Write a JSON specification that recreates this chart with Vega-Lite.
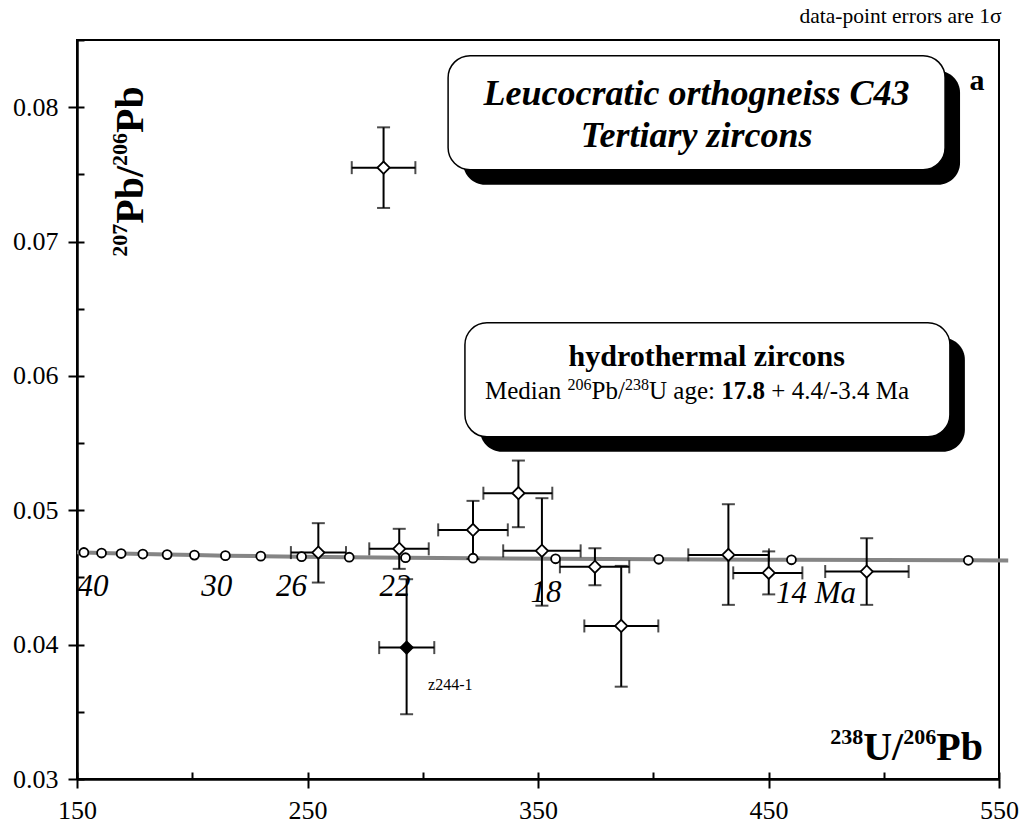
{
  "$schema": "https://vega.github.io/schema/vega-lite/v6.json",
  "width": 922,
  "height": 739,
  "autosize": "none",
  "padding": {"left": 77, "top": 40, "right": 24, "bottom": 55},
  "background": "white",
  "title": {"text": "data-point errors are 1σ", "anchor": "end", "font": "Liberation Serif", "fontSize": 21.5, "fontWeight": "normal", "color": "black", "offset": 12, "dx": -17},
  "config": {
    "view": {"stroke": "black", "strokeWidth": 2},
    "font": "Liberation Serif",
    "axis": {"labelFont": "Liberation Serif", "labelColor": "black", "tickColor": "black", "domainColor": "black", "grid": false}
  },
  "datasets": {
    "curve": [
      {"x": 150, "y": 0.046875}, {"x": 152.99, "y": 0.046858}, {"x": 160.66, "y": 0.046819}, {"x": 169.14, "y": 0.04678},
      {"x": 178.57, "y": 0.046741}, {"x": 189.1, "y": 0.046702}, {"x": 200.95, "y": 0.046663}, {"x": 214.38, "y": 0.046624},
      {"x": 229.73, "y": 0.046585}, {"x": 247.44, "y": 0.046546}, {"x": 268.1, "y": 0.046507}, {"x": 292.52, "y": 0.046469},
      {"x": 321.82, "y": 0.04643}, {"x": 357.63, "y": 0.046391}, {"x": 402.4, "y": 0.046353}, {"x": 459.96, "y": 0.046314},
      {"x": 536.7, "y": 0.046276}, {"x": 554, "y": 0.046265}
    ],
    "ticks": [
      {"age": 42, "x": 152.99, "y": 0.046858}, {"age": 40, "x": 160.66, "y": 0.046819}, {"age": 38, "x": 169.14, "y": 0.04678},
      {"age": 36, "x": 178.57, "y": 0.046741}, {"age": 34, "x": 189.1, "y": 0.046702}, {"age": 32, "x": 200.95, "y": 0.046663},
      {"age": 30, "x": 214.38, "y": 0.046624}, {"age": 28, "x": 229.73, "y": 0.046585}, {"age": 26, "x": 247.44, "y": 0.046546},
      {"age": 24, "x": 268.1, "y": 0.046507}, {"age": 22, "x": 292.52, "y": 0.046469}, {"age": 20, "x": 321.82, "y": 0.04643},
      {"age": 18, "x": 357.63, "y": 0.046391}, {"age": 16, "x": 402.4, "y": 0.046353}, {"age": 14, "x": 459.96, "y": 0.046314},
      {"age": 12, "x": 536.7, "y": 0.046276}
    ],
    "zircons": [
      {"id": "K", "x": 283.0, "xlo": 269.2, "xhi": 296.8, "y": 0.0755, "ylo": 0.0725, "yhi": 0.0785, "kind": "open"},
      {"id": "I", "x": 254.7, "xlo": 242.8, "xhi": 266.7, "y": 0.04685, "ylo": 0.04462, "yhi": 0.04904, "kind": "open"},
      {"id": "J", "x": 289.8, "xlo": 276.8, "xhi": 302.6, "y": 0.04713, "ylo": 0.04564, "yhi": 0.04862, "kind": "open"},
      {"id": "A", "x": 321.8, "xlo": 306.7, "xhi": 336.9, "y": 0.04854, "ylo": 0.04638, "yhi": 0.0507, "kind": "open"},
      {"id": "B", "x": 341.5, "xlo": 326.3, "xhi": 356.2, "y": 0.05127, "ylo": 0.04874, "yhi": 0.0537, "kind": "open"},
      {"id": "C", "x": 351.7, "xlo": 334.9, "xhi": 368.5, "y": 0.04698, "ylo": 0.0429, "yhi": 0.0509, "kind": "open"},
      {"id": "D", "x": 374.7, "xlo": 359.5, "xhi": 389.6, "y": 0.04579, "ylo": 0.04442, "yhi": 0.04718, "kind": "open"},
      {"id": "E", "x": 386.1, "xlo": 370.1, "xhi": 402.2, "y": 0.04139, "ylo": 0.03687, "yhi": 0.04586, "kind": "open"},
      {"id": "F", "x": 432.6, "xlo": 415.2, "xhi": 450.2, "y": 0.04668, "ylo": 0.04296, "yhi": 0.05045, "kind": "open"},
      {"id": "G", "x": 450.1, "xlo": 434.7, "xhi": 464.7, "y": 0.04534, "ylo": 0.04374, "yhi": 0.04694, "kind": "open"},
      {"id": "H", "x": 492.6, "xlo": 474.6, "xhi": 510.8, "y": 0.04544, "ylo": 0.04296, "yhi": 0.04792, "kind": "open"},
      {"id": "z244-1", "x": 293.0, "xlo": 281.1, "xhi": 305.0, "y": 0.03978, "ylo": 0.03482, "yhi": 0.04487, "kind": "filled"}
    ],
    "ages": [
      {"t": "40", "x": 156.9, "y": 0.04363}, {"t": "30", "x": 210.6, "y": 0.04363}, {"t": "26", "x": 243.1, "y": 0.04363},
      {"t": "22", "x": 288.0, "y": 0.04363}, {"t": "18", "x": 353.5, "y": 0.04318}, {"t": "14 Ma", "x": 470.6, "y": 0.04311}
    ],
    "shadows": [
      {"x": 317.5, "x2": 533.1, "y": 0.082717, "y2": 0.074229},
      {"x": 324.8, "x2": 535.2, "y": 0.062837, "y2": 0.054348}
    ],
    "boxes": [
      {"x": 311.0, "x2": 526.6, "y": 0.083834, "y2": 0.075346},
      {"x": 318.3, "x2": 528.7, "y": 0.063954, "y2": 0.055465}
    ],
    "box1": [
      {"t": "Leucocratic orthogneiss C43", "x": 418.8, "y": 0.080186},
      {"t": "Tertiary zircons", "x": 418.8, "y": 0.077059}
    ],
    "box2title": [{"t": "hydrothermal zircons", "x": 423.2, "y": 0.060752}],
    "box2reg": [
      {"t": "Median", "x": 327.0, "y": 0.058295}, {"t": "Pb/", "x": 373.25, "y": 0.058295},
      {"t": "U age:", "x": 398.16, "y": 0.058295}, {"t": "+ 4.4/-3.4 Ma", "x": 451.21, "y": 0.058295}
    ],
    "box2sup": [{"t": "206", "x": 362.84, "y": 0.058965}, {"t": "238", "x": 387.74, "y": 0.058965}],
    "box2bold": [{"t": "17.8", "x": 429.48, "y": 0.058295}],
    "ytitleBig": [{"t": "Pb/", "x": 178.6, "y": 0.071326}, {"t": "Pb", "x": 178.6, "y": 0.078086}],
    "ytitleSup": [{"t": "207", "x": 171.6, "y": 0.068868}, {"t": "206", "x": 171.6, "y": 0.075629}],
    "xtitleBig": [{"t": "U/", "x": 491.1, "y": 0.031415}, {"t": "Pb", "x": 522.8, "y": 0.031415}],
    "xtitleSup": [{"t": "238", "x": 476.8, "y": 0.032606}, {"t": "206", "x": 508.5, "y": 0.032606}],
    "panel": [{"t": "a", "x": 540.5, "y": 0.081303}],
    "note": [{"t": "z244-1", "x": 302.3, "y": 0.036627}]
  },
  "resolve": {"axis": {"x": "independent", "y": "independent"}},
  "layer": [
    {
      "data": {"name": "curve"},
      "mark": {"type": "line", "color": "#858585", "strokeWidth": 4, "clip": false},
      "encoding": {
        "x": {"field": "x", "type": "quantitative", "scale": {"domain": [150, 550], "nice": false, "zero": false},
          "axis": {"orient": "bottom", "values": [150, 250, 350, 450, 550], "format": "d", "title": null, "domainWidth": 2.5, "tickWidth": 2, "tickSize": 9, "labelFont": "Liberation Serif", "labelFontSize": 26, "labelPadding": 9, "labelFlush": false}},
        "y": {"field": "y", "type": "quantitative", "scale": {"domain": [0.03, 0.085], "nice": false, "zero": false},
          "axis": {"orient": "left", "values": [0.03, 0.04, 0.05, 0.06, 0.07, 0.08], "format": ".2f", "title": null, "domainWidth": 2.5, "tickWidth": 2, "tickSize": 9, "labelFont": "Liberation Serif", "labelFontSize": 26, "labelPadding": 10, "labelFlush": false}}
      }
    },
    {
      "data": {"name": "ages"},
      "mark": {"type": "text", "font": "Liberation Serif", "fontStyle": "italic", "fontSize": 31, "align": "center", "baseline": "alphabetic", "color": "black"},
      "encoding": {
        "x": {"field": "x", "type": "quantitative", "scale": {"domain": [150, 550]}, "axis": null},
        "y": {"field": "y", "type": "quantitative", "scale": {"domain": [0.03, 0.085]}, "axis": null},
        "text": {"field": "t"}
      }
    },
    {
      "data": {"name": "shadows"},
      "mark": {"type": "rect", "color": "black", "cornerRadius": 22},
      "encoding": {
        "x": {"field": "x", "type": "quantitative", "scale": {"domain": [150, 550]}, "axis": null},
        "x2": {"field": "x2"},
        "y": {"field": "y", "type": "quantitative", "scale": {"domain": [0.03, 0.085]}, "axis": null},
        "y2": {"field": "y2"}
      }
    },
    {
      "data": {"name": "boxes"},
      "mark": {"type": "rect", "fill": "white", "stroke": "black", "strokeWidth": 1.5, "cornerRadius": 22},
      "encoding": {
        "x": {"field": "x", "type": "quantitative", "scale": {"domain": [150, 550]}, "axis": null},
        "x2": {"field": "x2"},
        "y": {"field": "y", "type": "quantitative", "scale": {"domain": [0.03, 0.085]}, "axis": null},
        "y2": {"field": "y2"}
      }
    },
    {
      "data": {"name": "box1"},
      "mark": {"type": "text", "font": "Liberation Serif", "fontStyle": "italic", "fontWeight": "bold", "fontSize": 36, "align": "center", "baseline": "alphabetic", "color": "black"},
      "encoding": {
        "x": {"field": "x", "type": "quantitative", "scale": {"domain": [150, 550]}, "axis": null},
        "y": {"field": "y", "type": "quantitative", "scale": {"domain": [0.03, 0.085]}, "axis": null},
        "text": {"field": "t"}
      }
    },
    {
      "data": {"name": "box2title"},
      "mark": {"type": "text", "font": "Liberation Serif", "fontWeight": "bold", "fontSize": 30, "align": "center", "baseline": "alphabetic", "color": "black"},
      "encoding": {
        "x": {"field": "x", "type": "quantitative", "scale": {"domain": [150, 550]}, "axis": null},
        "y": {"field": "y", "type": "quantitative", "scale": {"domain": [0.03, 0.085]}, "axis": null},
        "text": {"field": "t"}
      }
    },
    {
      "data": {"name": "box2reg"},
      "mark": {"type": "text", "font": "Liberation Serif", "fontSize": 25, "align": "left", "baseline": "alphabetic", "color": "black"},
      "encoding": {
        "x": {"field": "x", "type": "quantitative", "scale": {"domain": [150, 550]}, "axis": null},
        "y": {"field": "y", "type": "quantitative", "scale": {"domain": [0.03, 0.085]}, "axis": null},
        "text": {"field": "t"}
      }
    },
    {
      "data": {"name": "box2sup"},
      "mark": {"type": "text", "font": "Liberation Serif", "fontSize": 16, "align": "left", "baseline": "alphabetic", "color": "black"},
      "encoding": {
        "x": {"field": "x", "type": "quantitative", "scale": {"domain": [150, 550]}, "axis": null},
        "y": {"field": "y", "type": "quantitative", "scale": {"domain": [0.03, 0.085]}, "axis": null},
        "text": {"field": "t"}
      }
    },
    {
      "data": {"name": "box2bold"},
      "mark": {"type": "text", "font": "Liberation Serif", "fontWeight": "bold", "fontSize": 25, "align": "left", "baseline": "alphabetic", "color": "black"},
      "encoding": {
        "x": {"field": "x", "type": "quantitative", "scale": {"domain": [150, 550]}, "axis": null},
        "y": {"field": "y", "type": "quantitative", "scale": {"domain": [0.03, 0.085]}, "axis": null},
        "text": {"field": "t"}
      }
    },
    {
      "data": {"name": "zircons"},
      "mark": {"type": "rule", "color": "black", "strokeWidth": 2},
      "encoding": {
        "x": {"field": "x", "type": "quantitative", "scale": {"domain": [150, 550]}, "axis": null},
        "y": {"field": "ylo", "type": "quantitative", "scale": {"domain": [0.03, 0.085]}, "axis": null},
        "y2": {"field": "yhi"}
      }
    },
    {
      "data": {"name": "zircons"},
      "mark": {"type": "rule", "color": "black", "strokeWidth": 2},
      "encoding": {
        "x": {"field": "xlo", "type": "quantitative", "scale": {"domain": [150, 550]}, "axis": null},
        "x2": {"field": "xhi"},
        "y": {"field": "y", "type": "quantitative", "scale": {"domain": [0.03, 0.085]}, "axis": null}
      }
    },
    {
      "data": {"name": "zircons"},
      "mark": {"type": "tick", "orient": "horizontal", "color": "black", "size": 13, "thickness": 2},
      "encoding": {
        "x": {"field": "x", "type": "quantitative", "scale": {"domain": [150, 550]}, "axis": null},
        "y": {"field": "ylo", "type": "quantitative", "scale": {"domain": [0.03, 0.085]}, "axis": null}
      }
    },
    {
      "data": {"name": "zircons"},
      "mark": {"type": "tick", "orient": "horizontal", "color": "black", "size": 13, "thickness": 2},
      "encoding": {
        "x": {"field": "x", "type": "quantitative", "scale": {"domain": [150, 550]}, "axis": null},
        "y": {"field": "yhi", "type": "quantitative", "scale": {"domain": [0.03, 0.085]}, "axis": null}
      }
    },
    {
      "data": {"name": "zircons"},
      "mark": {"type": "tick", "orient": "vertical", "color": "black", "size": 13, "thickness": 2},
      "encoding": {
        "x": {"field": "xlo", "type": "quantitative", "scale": {"domain": [150, 550]}, "axis": null},
        "y": {"field": "y", "type": "quantitative", "scale": {"domain": [0.03, 0.085]}, "axis": null}
      }
    },
    {
      "data": {"name": "zircons"},
      "mark": {"type": "tick", "orient": "vertical", "color": "black", "size": 13, "thickness": 2},
      "encoding": {
        "x": {"field": "xhi", "type": "quantitative", "scale": {"domain": [150, 550]}, "axis": null},
        "y": {"field": "y", "type": "quantitative", "scale": {"domain": [0.03, 0.085]}, "axis": null}
      }
    },
    {
      "data": {"name": "ticks"},
      "mark": {"type": "point", "shape": "circle", "filled": true, "fill": "white", "stroke": "black", "strokeWidth": 1.8, "size": 80, "opacity": 1},
      "encoding": {
        "x": {"field": "x", "type": "quantitative", "scale": {"domain": [150, 550]},
          "axis": {"orient": "bottom", "values": [150, 200, 250, 300, 350, 400, 450, 500, 550], "labels": false, "domain": false, "title": null, "tickWidth": 2, "tickSize": -7}},
        "y": {"field": "y", "type": "quantitative", "scale": {"domain": [0.03, 0.085]},
          "axis": {"orient": "left", "values": [0.03, 0.035, 0.04, 0.045, 0.05, 0.055, 0.06, 0.065, 0.07, 0.075, 0.08, 0.085], "labels": false, "domain": false, "title": null, "tickWidth": 2, "tickSize": -7}}
      }
    },
    {
      "data": {"name": "zircons"},
      "mark": {"type": "point", "shape": "diamond", "filled": true, "stroke": "black", "strokeWidth": 1.8, "size": 150, "opacity": 1},
      "encoding": {
        "x": {"field": "x", "type": "quantitative", "scale": {"domain": [150, 550]}, "axis": null},
        "y": {"field": "y", "type": "quantitative", "scale": {"domain": [0.03, 0.085]}, "axis": null},
        "fill": {"field": "kind", "type": "nominal", "scale": {"domain": ["open", "filled"], "range": ["white", "black"]}, "legend": null}
      }
    },
    {
      "data": {"name": "ytitleBig"},
      "mark": {"type": "text", "font": "Liberation Serif", "fontWeight": "bold", "fontSize": 40, "angle": 270, "align": "left", "baseline": "alphabetic", "color": "black"},
      "encoding": {
        "x": {"field": "x", "type": "quantitative", "scale": {"domain": [150, 550]}, "axis": null},
        "y": {"field": "y", "type": "quantitative", "scale": {"domain": [0.03, 0.085]}, "axis": null},
        "text": {"field": "t"}
      }
    },
    {
      "data": {"name": "ytitleSup"},
      "mark": {"type": "text", "font": "Liberation Serif", "fontWeight": "bold", "fontSize": 22, "angle": 270, "align": "left", "baseline": "alphabetic", "color": "black"},
      "encoding": {
        "x": {"field": "x", "type": "quantitative", "scale": {"domain": [150, 550]}, "axis": null},
        "y": {"field": "y", "type": "quantitative", "scale": {"domain": [0.03, 0.085]}, "axis": null},
        "text": {"field": "t"}
      }
    },
    {
      "data": {"name": "xtitleBig"},
      "mark": {"type": "text", "font": "Liberation Serif", "fontWeight": "bold", "fontSize": 40, "align": "left", "baseline": "alphabetic", "color": "black"},
      "encoding": {
        "x": {"field": "x", "type": "quantitative", "scale": {"domain": [150, 550]}, "axis": null},
        "y": {"field": "y", "type": "quantitative", "scale": {"domain": [0.03, 0.085]}, "axis": null},
        "text": {"field": "t"}
      }
    },
    {
      "data": {"name": "xtitleSup"},
      "mark": {"type": "text", "font": "Liberation Serif", "fontWeight": "bold", "fontSize": 22, "align": "left", "baseline": "alphabetic", "color": "black"},
      "encoding": {
        "x": {"field": "x", "type": "quantitative", "scale": {"domain": [150, 550]}, "axis": null},
        "y": {"field": "y", "type": "quantitative", "scale": {"domain": [0.03, 0.085]}, "axis": null},
        "text": {"field": "t"}
      }
    },
    {
      "data": {"name": "panel"},
      "mark": {"type": "text", "font": "Liberation Serif", "fontWeight": "bold", "fontSize": 30, "align": "center", "baseline": "alphabetic", "color": "black"},
      "encoding": {
        "x": {"field": "x", "type": "quantitative", "scale": {"domain": [150, 550]}, "axis": null},
        "y": {"field": "y", "type": "quantitative", "scale": {"domain": [0.03, 0.085]}, "axis": null},
        "text": {"field": "t"}
      }
    },
    {
      "data": {"name": "note"},
      "mark": {"type": "text", "font": "Liberation Serif", "fontSize": 16, "align": "left", "baseline": "alphabetic", "color": "black"},
      "encoding": {
        "x": {"field": "x", "type": "quantitative", "scale": {"domain": [150, 550]}, "axis": null},
        "y": {"field": "y", "type": "quantitative", "scale": {"domain": [0.03, 0.085]}, "axis": null},
        "text": {"field": "t"}
      }
    }
  ]
}
